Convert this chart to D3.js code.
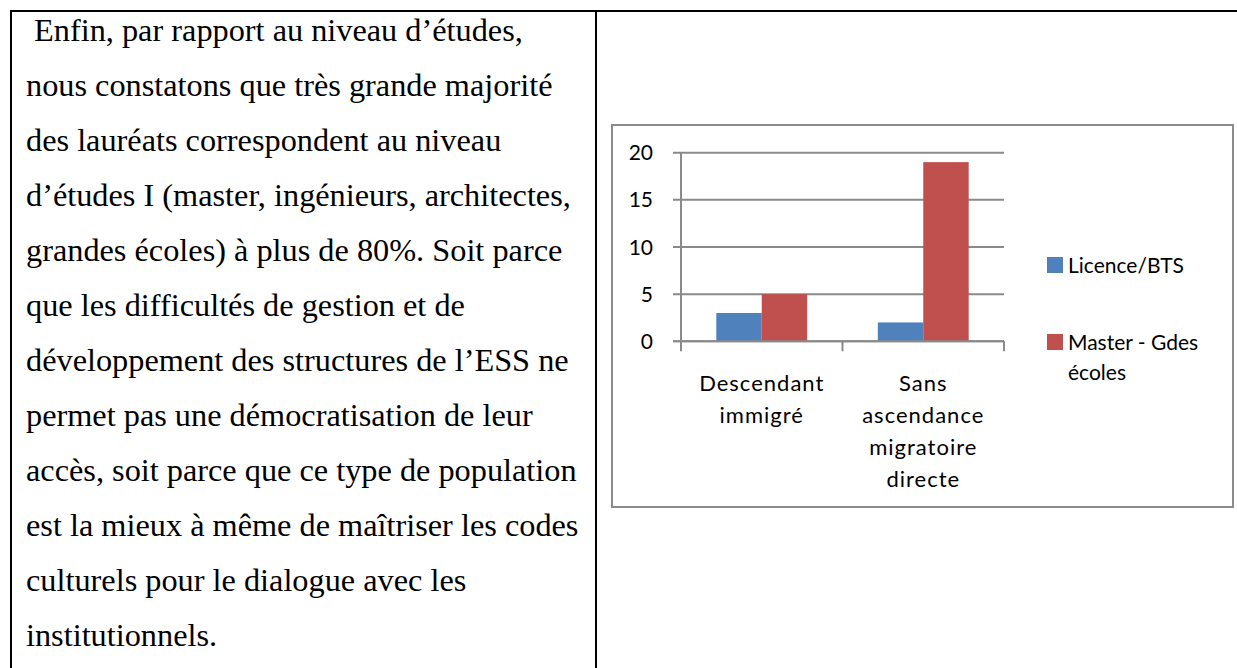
<!DOCTYPE html>
<html>
<head>
  <meta http-equiv="Content-Type" content="text/html; charset=UTF-8" />
  <title>Niveau d'études des lauréats</title>
  <style>
    body {
      padding: 0;
      margin: 0;
      background: #fff;
    }
  </style>
</head>
<body>

<svg width="1237" height="668" xmlns="http://www.w3.org/2000/svg"></svg>

<script src="https://d3js.org/d3.v7.min.js"></script>
<script>

// chart data
var categories = ["Descendant immigré", "Sans ascendance migratoire directe"]
var categoryLines = [["Descendant", "immigré"], ["Sans", "ascendance", "migratoire", "directe"]]
var seriesNames = ["Licence/BTS", "Master - Gdes écoles"]
var licenceValues = [3, 2]
var masterValues = [5, 19]
var yTicks = [0, 5, 10, 15, 20]
var colors = ["#4f81bd", "#c0504d"]

// text of the left cell
var paragraph = [
  " Enfin, par rapport au niveau d\u2019études,",
  "nous constatons que très grande majorité",
  "des lauréats correspondent au niveau",
  "d\u2019études I (master, ingénieurs, architectes,",
  "grandes écoles) à plus de 80%. Soit parce",
  "que les difficultés de gestion et de",
  "développement des structures de l\u2019ESS ne",
  "permet pas une démocratisation de leur",
  "accès, soit parce que ce type de population",
  "est la mieux à même de maîtriser les codes",
  "culturels pour le dialogue avec les",
  "institutionnels."
]

var svg = d3.select("svg")

// table borders
svg.append("line").attr("x1", 10).attr("x2", 1237).attr("y1", 11).attr("y2", 11)
  .style("stroke", "#000").style("stroke-width", 2)
svg.append("line").attr("x1", 11).attr("x2", 11).attr("y1", 10).attr("y2", 668)
  .style("stroke", "#000").style("stroke-width", 2)
svg.append("line").attr("x1", 596).attr("x2", 596).attr("y1", 10).attr("y2", 668)
  .style("stroke", "#000").style("stroke-width", 2)

svg.append("g")
  .selectAll("text")
  .data(paragraph)
  .enter()
  .append("text")
  .attr("x", 26)
  .attr("y", (d, i) => 41 + i * 55)
  .style("font-family", "'Liberation Serif', 'Times New Roman', serif")
  .style("font-size", "32.3px")
  .style("white-space", "pre")
  .attr("xml:space", "preserve")
  .style("fill", "#000")
  .text(d => d)

// chart frame
svg.append("rect")
  .attr("x", 612).attr("y", 125).attr("width", 621).attr("height", 382)
  .style("fill", "#fff").style("stroke", "#8c8c8c").style("stroke-width", 2)

var chartFont = "Lato, 'Open Sans', sans-serif"

var x = d3.scaleBand().domain(categories).range([681, 1004])
var xSeries = d3.scaleBand().domain(seriesNames).range([0, x.bandwidth()]).paddingOuter(0.777)
var y = d3.scaleLinear().domain([0, 20]).range([341.3, 152.7])

// gridlines + y ticks
svg.append("g")
  .selectAll("line.grid")
  .data(yTicks)
  .enter()
  .append("line")
  .attr("class", "grid")
  .attr("x1", 673)
  .attr("x2", x.range()[1])
  .attr("y1", d => y(d))
  .attr("y2", d => y(d))
  .style("stroke", "#8a8a8a")
  .style("stroke-width", 2)

svg.append("g")
  .selectAll("text")
  .data(yTicks)
  .enter()
  .append("text")
  .attr("x", 653)
  .attr("y", d => y(d))
  .attr("dy", "0.36em")
  .style("text-anchor", "end")
  .style("font-family", chartFont)
  .style("font-size", "21px")
  .style("fill", "#000")
  .text(d => d)

// bars
var rows = categories.map((c, i) => ({category: c, values: [licenceValues[i], masterValues[i]]}))

var groups = svg.append("g")
  .selectAll("g")
  .data(rows)
  .enter()
  .append("g")
  .attr("transform", d => "translate(" + x(d.category) + ",0)")

groups.selectAll("rect")
  .data(d => d.values.map((v, i) => ({name: seriesNames[i], value: v, color: colors[i]})))
  .enter()
  .append("rect")
  .attr("x", d => xSeries(d.name))
  .attr("width", xSeries.bandwidth())
  .attr("y", d => y(d.value))
  .attr("height", d => y(0) - y(d.value))
  .style("fill", d => d.color)

// axes lines
svg.append("line")
  .attr("x1", x.range()[0]).attr("x2", x.range()[0])
  .attr("y1", y(20)).attr("y2", y(0) + 10)
  .style("stroke", "#8a8a8a").style("stroke-width", 2)
svg.append("line")
  .attr("x1", 673).attr("x2", x.range()[1])
  .attr("y1", y(0)).attr("y2", y(0))
  .style("stroke", "#8a8a8a").style("stroke-width", 2)

svg.append("g")
  .selectAll("line")
  .data(categories)
  .enter()
  .append("line")
  .attr("x1", d => x(d) + x.bandwidth())
  .attr("x2", d => x(d) + x.bandwidth())
  .attr("y1", y(0))
  .attr("y2", y(0) + 10)
  .style("stroke", "#8a8a8a").style("stroke-width", 2)

// category labels
svg.append("g")
  .selectAll("text")
  .data(categories)
  .enter()
  .append("text")
  .attr("y", 391)
  .style("text-anchor", "middle")
  .style("font-family", chartFont)
  .style("font-size", "22px")
  .style("letter-spacing", "1px")
  .style("fill", "#000")
  .each(function(d, i) {
    d3.select(this).selectAll("tspan")
      .data(categoryLines[i])
      .enter()
      .append("tspan")
      .attr("x", x(d) + x.bandwidth() / 2)
      .attr("dy", (t, j) => j === 0 ? 0 : 32)
      .text(t => t)
  })

// legend
var legendLines = [["Licence/BTS"], ["Master - Gdes", "écoles"]]
var legendY = [265, 342]

var legend = svg.append("g")
  .selectAll("g")
  .data(seriesNames)
  .enter()
  .append("g")

legend.append("rect")
  .attr("x", 1047)
  .attr("y", (d, i) => legendY[i] - 8)
  .attr("width", 16)
  .attr("height", 16)
  .style("fill", (d, i) => colors[i])

legend.append("text")
  .attr("y", (d, i) => legendY[i])
  .style("font-family", chartFont)
  .style("font-size", "21px")
  .style("fill", "#000")
  .each(function(d, i) {
    d3.select(this).selectAll("tspan")
      .data(legendLines[i])
      .enter()
      .append("tspan")
      .attr("x", 1068)
      .attr("dy", (t, j) => j === 0 ? "0.36em" : 30)
      .text(t => t)
  })

</script>
</body>
</html>
